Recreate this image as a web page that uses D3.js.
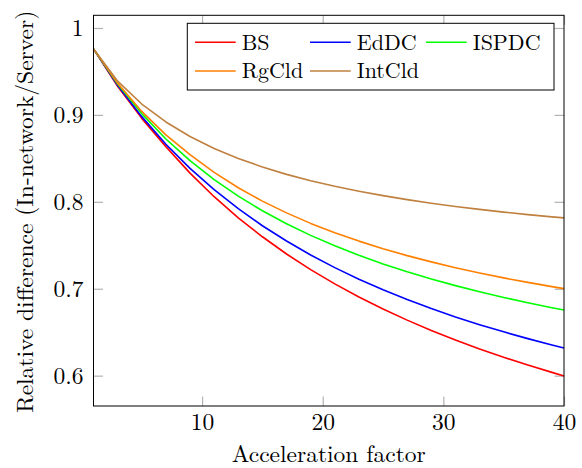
<!DOCTYPE html>
<html>
<head>
<meta charset="utf-8">
<script src="https://cdn.jsdelivr.net/npm/d3@7"></script>
<style>
  html, body { margin: 0; padding: 0; background: #fff; }
  svg { display: block; }
</style>
</head>
<body>
<svg id="chart" width="582" height="468"></svg>
<script>
const xValues = [1, 3, 5, 7, 9, 11, 13, 15, 17, 19, 21, 23, 25, 27, 29, 31, 33, 35, 37, 39, 40];
const seriesNames = ["BS", "EdDC", "ISPDC", "RgCld", "IntCld"];
const seriesColors = ["#ff0000", "#0000ff", "#00ff00", "#ff8000", "#bf8040"];
const bsValues = [0.976, 0.933, 0.896, 0.8635, 0.833, 0.8059, 0.7816, 0.7598, 0.740, 0.722, 0.7056, 0.6905, 0.6767, 0.6639, 0.652, 0.641, 0.6307, 0.6211, 0.6122, 0.6038, 0.5997];
const eddcValues = [0.976, 0.934, 0.898, 0.8663, 0.8385, 0.814, 0.7921, 0.7725, 0.7549, 0.7389, 0.7243, 0.711, 0.6988, 0.6876, 0.6772, 0.6676, 0.6587, 0.6504, 0.6426, 0.6353, 0.6319];
const ispdcValues = [0.976, 0.9355, 0.9015, 0.8723, 0.8473, 0.8256, 0.8065, 0.7897, 0.7748, 0.7614, 0.7494, 0.7385, 0.7286, 0.7195, 0.7112, 0.7036, 0.6965, 0.69, 0.6839, 0.6782, 0.6756];
const rgcldValues = [0.976, 0.9365, 0.904, 0.877, 0.8542, 0.8338, 0.8162, 0.8008, 0.7873, 0.7752, 0.7645, 0.7548, 0.746, 0.7381, 0.7309, 0.7242, 0.7181, 0.7125, 0.7073, 0.7024, 0.7001];
const intcldValues = [0.976, 0.9388, 0.9125, 0.8919, 0.8752, 0.8614, 0.8499, 0.8401, 0.8316, 0.8243, 0.8179, 0.8122, 0.8071, 0.8025, 0.7984, 0.7947, 0.7913, 0.7882, 0.7853, 0.7827, 0.7815];
const xTicks = [10, 20, 30, 40];
const yTicks = [0.6, 0.7, 0.8, 0.9, 1];
const xLabel = "Acceleration factor";
const yLabel = "Relative difference (In-network/Server)";

const seriesValues = [bsValues, eddcValues, ispdcValues, rgcldValues, intcldValues];
const series = seriesNames.map((name, i) => ({
  name, color: seriesColors[i],
  points: xValues.map((x, j) => ({x, y: seriesValues[i][j]}))
}));

const pLeft = 93.5, pRight = 564, pTop = 15.3, pBottom = 406;
const fontSize = 23.5;
const legendFontSize = 22;
const fontFamily = '"Latin Modern Roman", "Liberation Serif", serif';

const svg = d3.select("#chart");
const x = d3.scaleLinear().domain([1, 40]).range([pLeft, pRight]);
const y = d3.scaleLinear().domain([0.5651, 1.0146]).range([pBottom, pTop]);

// ticks (inside, gray) on all four sides
const tickLen = 9.5;
const tickColor = "#b3b3b3";
const axB = svg.append("g").attr("transform", `translate(0,${pBottom})`)
  .call(d3.axisBottom(x).tickValues(xTicks).tickSize(-tickLen).tickFormat(d3.format("d")));
const axT = svg.append("g").attr("transform", `translate(0,${pTop})`)
  .call(d3.axisTop(x).tickValues(xTicks).tickSize(-tickLen).tickFormat(""));
const axL = svg.append("g").attr("transform", `translate(${pLeft},0)`)
  .call(d3.axisLeft(y).tickValues(yTicks).tickSize(-tickLen).tickFormat(d => d === 1 ? "1" : d3.format(".1f")(d)));
const axR = svg.append("g").attr("transform", `translate(${pRight},0)`)
  .call(d3.axisRight(y).tickValues(yTicks).tickSize(-tickLen).tickFormat(""));
[axB, axT, axL, axR].forEach(g => {
  g.attr("font-family", null).attr("font-size", null);
  g.select(".domain").remove();
  g.selectAll(".tick line").attr("stroke", tickColor).attr("stroke-width", 1.2);
  g.selectAll("text").style("font-size", fontSize + "px").style("font-family", fontFamily).attr("fill", "#000");
});
axB.selectAll("text").attr("dy", null).attr("y", 24);
axL.selectAll("text").attr("dy", null).attr("x", -10).attr("transform", "translate(0,8)");

// lines
const line = d3.line().x(d => x(d.x)).y(d => y(d.y)).curve(d3.curveLinear);
svg.append("g").selectAll("path").data(series).join("path")
  .attr("d", d => line(d.points))
  .attr("fill", "none")
  .attr("stroke", d => d.color)
  .attr("stroke-width", 1.6)
  .attr("stroke-linejoin", "round");

// frame
svg.append("rect").attr("x", pLeft).attr("y", pTop)
  .attr("width", pRight - pLeft).attr("height", pBottom - pTop)
  .attr("fill", "none").attr("stroke", "#000").attr("stroke-width", 1);

// axis labels
svg.append("text").attr("x", (pLeft + pRight) / 2).attr("y", 462)
  .attr("text-anchor", "middle")
  .style("font-size", fontSize + "px").style("font-family", fontFamily)
  .text(xLabel);
svg.append("text")
  .attr("transform", `translate(32.5,${(pTop + pBottom) / 2 + 1}) rotate(-90)`)
  .attr("text-anchor", "middle")
  .style("font-size", fontSize + "px").style("font-family", fontFamily)
  .text(yLabel);

// legend
const legendCols = [195, 310, 426];
const legendRows = [42.3, 71];
const legend = svg.append("g");
legend.append("rect").attr("x", 187.3).attr("y", 23.3).attr("width", 554 - 187.3).attr("height", 90 - 23.3)
  .attr("fill", "#fff").attr("stroke", "#000").attr("stroke-width", 1);
const items = legend.selectAll("g.item").data(series).join("g").attr("class", "item")
  .attr("transform", (d, i) => `translate(${legendCols[i % 3]},${legendRows[Math.floor(i / 3)]})`);
items.append("line").attr("x1", 0).attr("x2", 40.7).attr("y1", 0).attr("y2", 0)
  .attr("stroke", d => d.color).attr("stroke-width", 1.6);
items.append("text").attr("x", 46.7).attr("y", 7.2)
  .style("font-size", legendFontSize + "px").style("font-family", fontFamily)
  .text(d => d.name);
</script>
</body>
</html>
